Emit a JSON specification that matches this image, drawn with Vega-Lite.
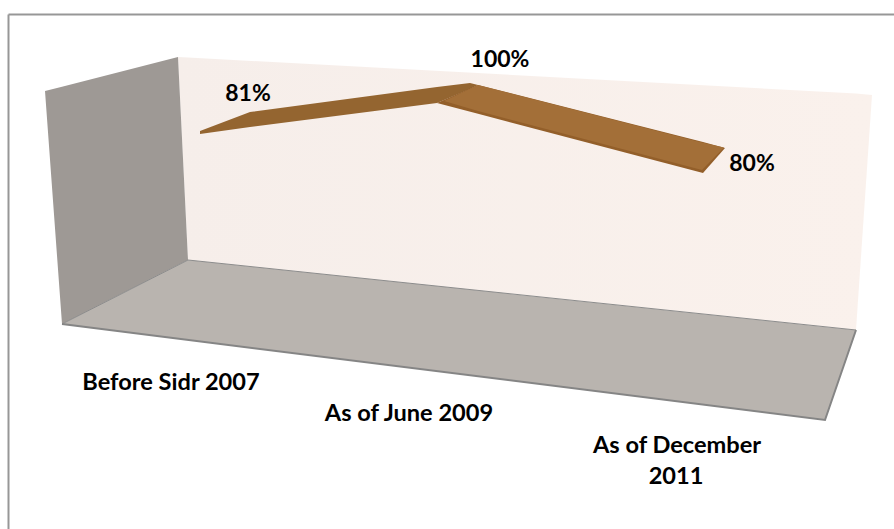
{
  "$schema": "https://vega.github.io/schema/vega-lite/v6.json",
  "width": 894,
  "height": 529,
  "padding": 0,
  "autosize": {"type": "none"},
  "background": "white",
  "view": {"stroke": null},
  "datasets": {
    "frameTop": [
      {"x": 4.25, "y": 257.25},
      {"x": 447, "y": 257.25}
    ],
    "frameSide": [
      {"x": 4.25, "y": 0},
      {"x": 4.25, "y": 257.25}
    ],
    "sideWall": [
      {"x": 22.5, "top": 219, "bottom": 219},
      {"x": 31, "top": 221.15, "bottom": 102.5},
      {"x": 89, "top": 236, "bottom": 132},
      {"x": 94, "top": 134.5, "bottom": 134.5}
    ],
    "backWall": [
      {"x": 89, "top": 236, "bottom": 236},
      {"x": 94, "top": 235.75, "bottom": 134.5},
      {"x": 428, "top": 217.75, "bottom": 99.5},
      {"x": 436, "top": 217, "bottom": 217}
    ],
    "floor": [
      {"x": 31, "top": 102.5, "bottom": 102.5},
      {"x": 94, "top": 134.5, "bottom": 94.5},
      {"x": 412.5, "top": 101, "bottom": 54.5},
      {"x": 428, "top": 99.5, "bottom": 99.5}
    ],
    "floorFront": [
      {"x": 31, "y": 102.5},
      {"x": 412.5, "y": 54.5},
      {"x": 428, "y": 99.5}
    ],
    "floorBack": [
      {"x": 31, "y": 102.5},
      {"x": 94, "y": 134.5},
      {"x": 428, "y": 99.5}
    ],
    "ribbonRise": [
      {"x": 100, "top": 199, "bottom": 197.5},
      {"x": 125, "top": 208.5, "bottom": 201},
      {"x": 218.5, "top": 221, "bottom": 213},
      {"x": 235, "top": 223, "bottom": 220},
      {"x": 239, "top": 222, "bottom": 222}
    ],
    "ribbonEdge": [
      {"x": 218.5, "top": 213, "bottom": 213},
      {"x": 239, "top": 222, "bottom": 207.6},
      {"x": 351.5, "top": 193.5, "bottom": 178},
      {"x": 362.5, "top": 190.5, "bottom": 190.5}
    ],
    "ribbonFall": [
      {"x": 222, "top": 214, "bottom": 214},
      {"x": 239, "top": 222, "bottom": 209},
      {"x": 351, "top": 193.3, "bottom": 179.5},
      {"x": 362, "top": 190.75, "bottom": 190.75}
    ],
    "values": [
      {"period": "Before Sidr 2007", "share": 0.81, "labelX": 124, "labelY": 217.5},
      {"period": "As of June 2009", "share": 1.0, "labelX": 250, "labelY": 234.5},
      {"period": "As of December 2011", "share": 0.8, "labelX": 376, "labelY": 182.5}
    ],
    "categories": [
      {"period": "Before Sidr 2007", "x": 85.5, "y": 73},
      {"period": "As of June 2009", "x": 204.5, "y": 57.5},
      {"period": "As of December", "x": 338.5, "y": 41.5},
      {"period": "2011", "x": 338, "y": 26}
    ]
  },
  "layer": [
    {
      "data": {"name": "backWall"},
      "mark": {"type": "area", "color": {"gradient": "linear", "x1": 0, "y1": 0, "x2": 1, "y2": 0, "stops": [{"offset": 0, "color": "#F6EEEA"}, {"offset": 1, "color": "#FAF1EC"}]}},
      "encoding": {
        "x": {"field": "x", "type": "quantitative", "scale": {"domain": [0, 447], "nice": false}, "axis": null},
        "y": {"field": "top", "type": "quantitative", "scale": {"domain": [0, 264.5], "nice": false}, "axis": null},
        "y2": {"field": "bottom"}
      }
    },
    {
      "data": {"name": "sideWall"},
      "mark": {"type": "area", "color": "#9E9995"},
      "encoding": {
        "x": {"field": "x", "type": "quantitative", "scale": {"domain": [0, 447], "nice": false}, "axis": null},
        "y": {"field": "top", "type": "quantitative", "scale": {"domain": [0, 264.5], "nice": false}, "axis": null},
        "y2": {"field": "bottom"}
      }
    },
    {
      "data": {"name": "floor"},
      "mark": {"type": "area", "color": "#B9B4AF"},
      "encoding": {
        "x": {"field": "x", "type": "quantitative", "scale": {"domain": [0, 447], "nice": false}, "axis": null},
        "y": {"field": "top", "type": "quantitative", "scale": {"domain": [0, 264.5], "nice": false}, "axis": null},
        "y2": {"field": "bottom"}
      }
    },
    {
      "data": {"name": "floorBack"},
      "mark": {"type": "line", "color": "#8C8C8C", "strokeWidth": 1},
      "encoding": {
        "x": {"field": "x", "type": "quantitative", "scale": {"domain": [0, 447], "nice": false}, "axis": null},
        "y": {"field": "y", "type": "quantitative", "scale": {"domain": [0, 264.5], "nice": false}, "axis": null}
      }
    },
    {
      "data": {"name": "floorFront"},
      "mark": {"type": "line", "color": "#858585", "strokeWidth": 2},
      "encoding": {
        "x": {"field": "x", "type": "quantitative", "scale": {"domain": [0, 447], "nice": false}, "axis": null},
        "y": {"field": "y", "type": "quantitative", "scale": {"domain": [0, 264.5], "nice": false}, "axis": null}
      }
    },
    {
      "data": {"name": "ribbonRise"},
      "mark": {"type": "area", "color": "#946530"},
      "encoding": {
        "x": {"field": "x", "type": "quantitative", "scale": {"domain": [0, 447], "nice": false}, "axis": null},
        "y": {"field": "top", "type": "quantitative", "scale": {"domain": [0, 264.5], "nice": false}, "axis": null},
        "y2": {"field": "bottom"}
      }
    },
    {
      "data": {"name": "ribbonEdge"},
      "mark": {"type": "area", "color": "#935F2A"},
      "encoding": {
        "x": {"field": "x", "type": "quantitative", "scale": {"domain": [0, 447], "nice": false}, "axis": null},
        "y": {"field": "top", "type": "quantitative", "scale": {"domain": [0, 264.5], "nice": false}, "axis": null},
        "y2": {"field": "bottom"}
      }
    },
    {
      "data": {"name": "ribbonFall"},
      "mark": {"type": "area", "color": "#A36F38"},
      "encoding": {
        "x": {"field": "x", "type": "quantitative", "scale": {"domain": [0, 447], "nice": false}, "axis": null},
        "y": {"field": "top", "type": "quantitative", "scale": {"domain": [0, 264.5], "nice": false}, "axis": null},
        "y2": {"field": "bottom"}
      }
    },
    {
      "data": {"name": "values"},
      "mark": {"type": "text", "font": "Lato", "fontWeight": "bold", "fontSize": 23, "color": "#000000"},
      "encoding": {
        "x": {"field": "labelX", "type": "quantitative", "scale": {"domain": [0, 447], "nice": false}, "axis": null},
        "y": {"field": "labelY", "type": "quantitative", "scale": {"domain": [0, 264.5], "nice": false}, "axis": null},
        "text": {"field": "share", "type": "quantitative", "format": ".0%"}
      }
    },
    {
      "data": {"name": "categories"},
      "mark": {"type": "text", "font": "Lato", "fontWeight": "bold", "fontSize": 23.6, "color": "#000000"},
      "encoding": {
        "x": {"field": "x", "type": "quantitative", "scale": {"domain": [0, 447], "nice": false}, "axis": null},
        "y": {"field": "y", "type": "quantitative", "scale": {"domain": [0, 264.5], "nice": false}, "axis": null},
        "text": {"field": "period", "type": "nominal"}
      }
    },
    {
      "data": {"name": "frameTop"},
      "mark": {"type": "line", "color": "#979797", "strokeWidth": 2},
      "encoding": {
        "x": {"field": "x", "type": "quantitative", "scale": {"domain": [0, 447], "nice": false}, "axis": null},
        "y": {"field": "y", "type": "quantitative", "scale": {"domain": [0, 264.5], "nice": false}, "axis": null}
      }
    },
    {
      "data": {"name": "frameSide"},
      "mark": {"type": "line", "color": "#979797", "strokeWidth": 2},
      "encoding": {
        "x": {"field": "x", "type": "quantitative", "scale": {"domain": [0, 447], "nice": false}, "axis": null},
        "y": {"field": "y", "type": "quantitative", "scale": {"domain": [0, 264.5], "nice": false}, "axis": null}
      }
    }
  ]
}
